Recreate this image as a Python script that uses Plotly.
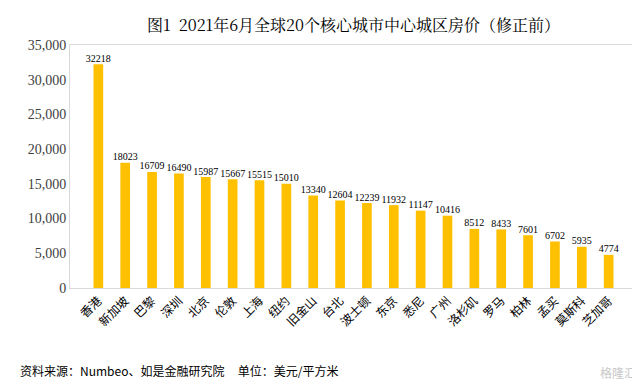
import plotly.graph_objects as go

cities = ["香港", "新加坡", "巴黎", "深圳", "北京", "伦敦", "上海", "纽约", "旧金山", "台北",
          "波士顿", "东京", "悉尼", "广州", "洛杉矶", "罗马", "柏林", "孟买", "莫斯科", "芝加哥"]
prices = [32218, 18023, 16709, 16490, 15987, 15667, 15515, 15010, 13340, 12604,
          12239, 11932, 11147, 10416, 8512, 8433, 7601, 6702, 5935, 4774]
y_ticks = [0, 5000, 10000, 15000, 20000, 25000, 30000, 35000]

title_text = "图1  2021年6月全球20个核心城市中心城区房价（修正前）"
source_text = "资料来源：Numbeo、如是金融研究院     单位：美元/平方米"

fig = go.Figure()
fig.add_trace(go.Bar(
    x=cities, y=prices, width=0.36,
    marker=dict(color="#FFC000", line=dict(width=0)),
    hoverinfo="x+y",
))
fig.add_trace(go.Scatter(
    x=cities, y=prices, mode="text",
    text=[str(v) for v in prices], textposition="top center",
    textfont=dict(family="Liberation Serif", size=10, color="#000000"),
    cliponaxis=False, hoverinfo="skip",
))

W, H, L, R, T, B = 640, 382, 62, 11, 37, 102
pw, ph = W - L - R, H - T - B

fig.update_layout(
    width=W, height=H,
    margin=dict(l=L, r=R, t=T, b=B),
    paper_bgcolor="white", plot_bgcolor="white",
    showlegend=False,
    title=dict(text=title_text, x=0.5, xref="paper", y=0.955, yref="container",
               xanchor="center", yanchor="middle",
               font=dict(family="Noto Serif CJK SC, Noto Sans CJK SC", size=16, color="#000000")),
)
fig.update_xaxes(tickangle=-45, showline=True, linecolor="#D9D9D9", mirror=True,
                 ticks="", tickfont=dict(family="Noto Sans CJK SC", size=12, color="#000000"))
fig.update_yaxes(range=[0, 35000], tickvals=y_ticks, tickformat=",", showgrid=False,
                 showline=True, linecolor="#D9D9D9", mirror=True, ticks="", zeroline=False,
                 tickfont=dict(family="Liberation Serif", size=14, color="#404040"))

fig.add_annotation(text=source_text, x=(10 - L) / pw, y=(H - 362 - B) / ph,
                   xref="paper", yref="paper", xanchor="left", yanchor="middle", showarrow=False,
                   font=dict(family="Noto Sans CJK SC", size=12, color="#000000"))
fig.add_annotation(text="格隆汇", x=(630 - L) / pw, y=(H - 364 - B) / ph,
                   xref="paper", yref="paper", xanchor="right", yanchor="middle", showarrow=False,
                   font=dict(family="Noto Sans CJK SC", size=12, color="#C8C8C8"))

fig.write_html("out.html")
